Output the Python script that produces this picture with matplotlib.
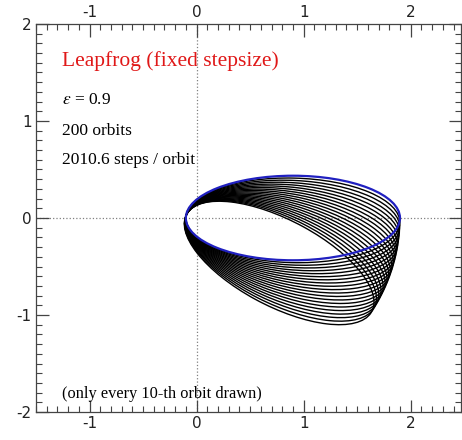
import matplotlib
matplotlib.use("Agg")
import matplotlib.pyplot as plt
from matplotlib.patches import Ellipse
from matplotlib.ticker import MultipleLocator
from matplotlib.transforms import Affine2D

plt.rcParams['axes.unicode_minus'] = False
plt.rcParams['mathtext.fontset'] = 'stix'

# Orbit parameters
ecc = 0.9
semi_major = 1.0
n_orbits = 200
steps_per_orbit = 2010.6

# Precession of the periapsis (degrees, clockwise) after every 10th orbit
precession_deg = [1.55, 3.1, 4.65, 6.2, 7.75, 9.3, 10.85, 12.4, 13.95, 15.5,
                  17.05, 18.6, 20.15, 21.7, 23.25, 24.8, 26.35, 27.9, 29.45, 31.0]

x_ticks = [-1, 0, 1, 2]
y_ticks = [-2, -1, 0, 1, 2]

semi_minor = semi_major * (1 - ecc ** 2) ** 0.5
centre = semi_major * ecc

fig = plt.figure(figsize=(4.62, 4.40), dpi=100)
ax = fig.add_axes([36 / 462, 28 / 440, 425 / 462, 388 / 440])

ax.axhline(0, color='gray', ls=':', lw=0.9, zorder=1)
ax.axvline(0, color='gray', ls=':', lw=0.9, zorder=1)


def orbit(angle, color, lw, z):
    # ellipse with its focus at the origin, rotated about that focus
    rot = Affine2D().rotate_deg(-angle) + ax.transData
    e = Ellipse((centre, 0), 2 * semi_major, 2 * semi_minor, fill=False,
                edgecolor=color, lw=lw, zorder=z)
    e.set_transform(rot)
    ax.add_patch(e)


for ang in precession_deg:
    orbit(ang, 'black', 1.0, 2)
orbit(0.0, '#2020c0', 1.6, 3)

ax.set_xlim(-1.5, 2.47)
ax.set_ylim(-2, 2)
ax.set_xticks(x_ticks)
ax.set_yticks(y_ticks)
ax.xaxis.set_minor_locator(MultipleLocator(0.1))
ax.yaxis.set_minor_locator(MultipleLocator(0.1))
ax.tick_params(which='both', direction='in', top=True, right=True,
               labeltop=True, labelright=False, color='#444444',
               labelsize=11, labelcolor='#222222')
ax.tick_params(which='major', length=9, width=0.9, pad=3)
ax.tick_params(which='minor', length=4.5, width=0.8)
for s in ax.spines.values():
    s.set_color('#444444')
    s.set_linewidth(0.9)

serif = 'Liberation Serif'
ax.text(-1.26, 1.62, 'Leapfrog (fixed stepsize)', color='#e01818',
        fontsize=15.5, family=serif, va='center')
ax.text(-1.26, 1.22, r'$\varepsilon$ = ' + f'{ecc}', fontsize=12.5,
        family=serif, va='center')
ax.text(-1.26, 0.90, f'{n_orbits} orbits', fontsize=12.5, family=serif,
        va='center')
ax.text(-1.26, 0.60, f'{steps_per_orbit} steps / orbit', fontsize=12.5,
        family=serif, va='center')
ax.text(-1.26, -1.81, '(only every 10-th orbit drawn)', fontsize=11.8,
        family=serif, va='center')

fig.savefig('out.png', dpi=100)
